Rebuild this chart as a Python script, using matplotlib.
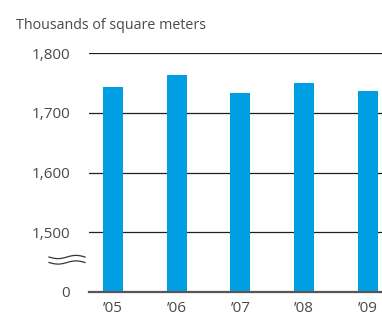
import numpy as np
import matplotlib
matplotlib.use("Agg")
import matplotlib.pyplot as plt
from matplotlib.lines import Line2D

years = ["\u201905", "\u201906", "\u201907", "\u201908", "\u201909"]
values = [1744, 1764, 1734, 1750, 1737]
ytick_values = [1400, 1500, 1600, 1700, 1800]
ytick_labels = ["0", "1,500", "1,600", "1,700", "1,800"]
title = "Thousands of square meters"

BAR = "#009FE3"
TXT = "#4d4948"

plt.rcParams['font.family'] = ['Open Sans', 'DejaVu Sans']

fig = plt.figure(figsize=(3.82, 3.13), dpi=100)
W, H = 382, 313
ax = fig.add_axes([89 / W, (H - 291.7) / H, 1 - 89 / W + 0.01, (291.7 - 53.3) / H])

x = np.arange(len(years))
base = ytick_values[0]
ax.bar(x, [v - base for v in values], bottom=base, width=0.3125, color=BAR, zorder=3)

ax.set_ylim(1400, 1800)
ax.set_xlim(-0.375, 4.22 + 0.01 * W / 64)
ax.set_yticks(ytick_values)
ax.set_yticklabels(ytick_labels)
ax.set_xticks(x)
ax.set_xticklabels(years)

for yv in ytick_values[1:]:
    ax.axhline(yv, color="#231f20", lw=0.9, zorder=2)

for s in ["top", "right", "left"]:
    ax.spines[s].set_visible(False)
ax.spines["bottom"].set_color("#5a5453")
ax.spines["bottom"].set_linewidth(1.6)
ax.spines["bottom"].set_zorder(4)

ax.tick_params(axis="y", length=0, pad=13.5, labelsize=11, labelcolor=TXT)
ax.tick_params(axis="x", length=0, pad=7, labelsize=11, labelcolor=TXT)

fig.text(16 / W, (H - 29) / H, title, fontsize=10.3, color=TXT, ha="left", va="baseline")

# axis-break mark
t = np.linspace(0, 1, 50)
for yc in (257, 262.5):
    xs = (49 + 36 * t) / W
    ys = (H - (yc + 1.6 * np.sin(2 * np.pi * t))) / H
    fig.add_artist(Line2D(xs, ys, color="#3a3535", lw=0.9, transform=fig.transFigure))

fig.savefig("out.png", dpi=100)
